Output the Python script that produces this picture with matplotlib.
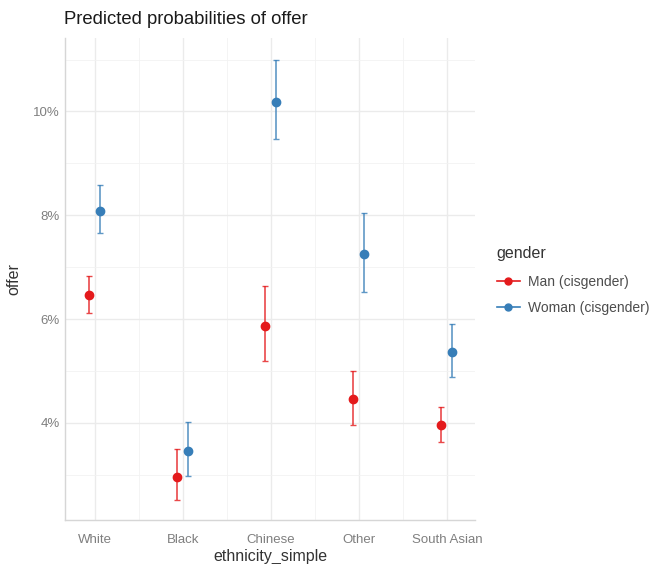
import matplotlib.pyplot as plt
import numpy as np
from matplotlib.lines import Line2D
from matplotlib.ticker import FuncFormatter, MultipleLocator

plt.rcParams['font.family'] = ['Liberation Sans', 'DejaVu Sans']

categories = ['White', 'Black', 'Chinese', 'Other', 'South Asian']
groups = ['Man (cisgender)', 'Woman (cisgender)']
colors = ['#E41A1C', '#377EB8']

# predicted probabilities (%) and confidence intervals
man_pred = [6.46, 2.96, 5.87, 4.47, 3.96]
man_low = [6.12, 2.52, 5.19, 3.96, 3.63]
man_high = [6.83, 3.49, 6.64, 5.01, 4.31]

woman_pred = [8.09, 3.45, 10.19, 7.26, 5.36]
woman_low = [7.65, 2.97, 9.47, 6.53, 4.89]
woman_high = [8.59, 4.01, 11.0, 8.05, 5.90]

fig = plt.figure(figsize=(6.57, 5.64), dpi=100)
ax = fig.add_axes([0.099, 0.078, 0.624, 0.855])

x = np.arange(1, len(categories) + 1)
series = [(man_pred, man_low, man_high), (woman_pred, woman_low, woman_high)]
for i, (pred, low, high) in enumerate(series):
    pred = np.array(pred)
    err = [pred - np.array(low), np.array(high) - pred]
    xpos = x + (i - 0.5) * 0.125
    ax.errorbar(xpos, pred, yerr=err, fmt='none', ecolor=colors[i],
                elinewidth=1.2, capsize=2, capthick=1.0, alpha=0.8, zorder=3)
    ax.plot(xpos, pred, 'o', color=colors[i], markersize=6, zorder=4)

ax.set_xlim(0.66, 5.32)
ax.set_ylim(2.13, 11.42)
ax.set_xticks(x)
ax.set_xticklabels(categories)
ax.set_xticks(x[:-1] + 0.5, minor=True)
ax.yaxis.set_major_locator(MultipleLocator(2))
ax.yaxis.set_minor_locator(MultipleLocator(1))
ax.yaxis.set_major_formatter(FuncFormatter(lambda v, p: f'{v:.0f}%'))

ax.grid(which='major', color='#EBEBEB', linewidth=1.0)
ax.grid(which='minor', color='#F2F2F2', linewidth=0.6)
ax.set_axisbelow(True)
for s in ['top', 'right']:
    ax.spines[s].set_visible(False)
for s in ['left', 'bottom']:
    ax.spines[s].set_color('#D6D6D6')
    ax.spines[s].set_linewidth(1.0)
ax.tick_params(which='both', length=0, colors='#7F7F7F', labelsize=9.5)
ax.tick_params(axis='x', pad=10)
ax.tick_params(axis='y', pad=4)

ax.set_xlabel('ethnicity_simple', fontsize=11.5, color='#333333', labelpad=2)
ax.set_ylabel('offer', fontsize=11.5, color='#333333', labelpad=8)
ax.set_title('Predicted probabilities of offer', loc='left', fontsize=13.3,
             color='#1A1A1A', pad=10, x=-0.002)

handles = [Line2D([], [], color=c, marker='o', markersize=5, linewidth=1.2)
           for c in colors]
leg = ax.legend(handles, groups, loc='center left',
                bbox_to_anchor=(1.022, 0.497), frameon=False,
                title='gender', fontsize=10, title_fontsize=11.5,
                handlelength=1.7, handletextpad=0.6, labelspacing=0.85)
leg._legend_box.align = 'left'
leg._legend_box.sep = 10
leg.get_title().set_color('#333333')
for t in leg.get_texts():
    t.set_color('#4D4D4D')

fig.savefig('out.png', dpi=100)
